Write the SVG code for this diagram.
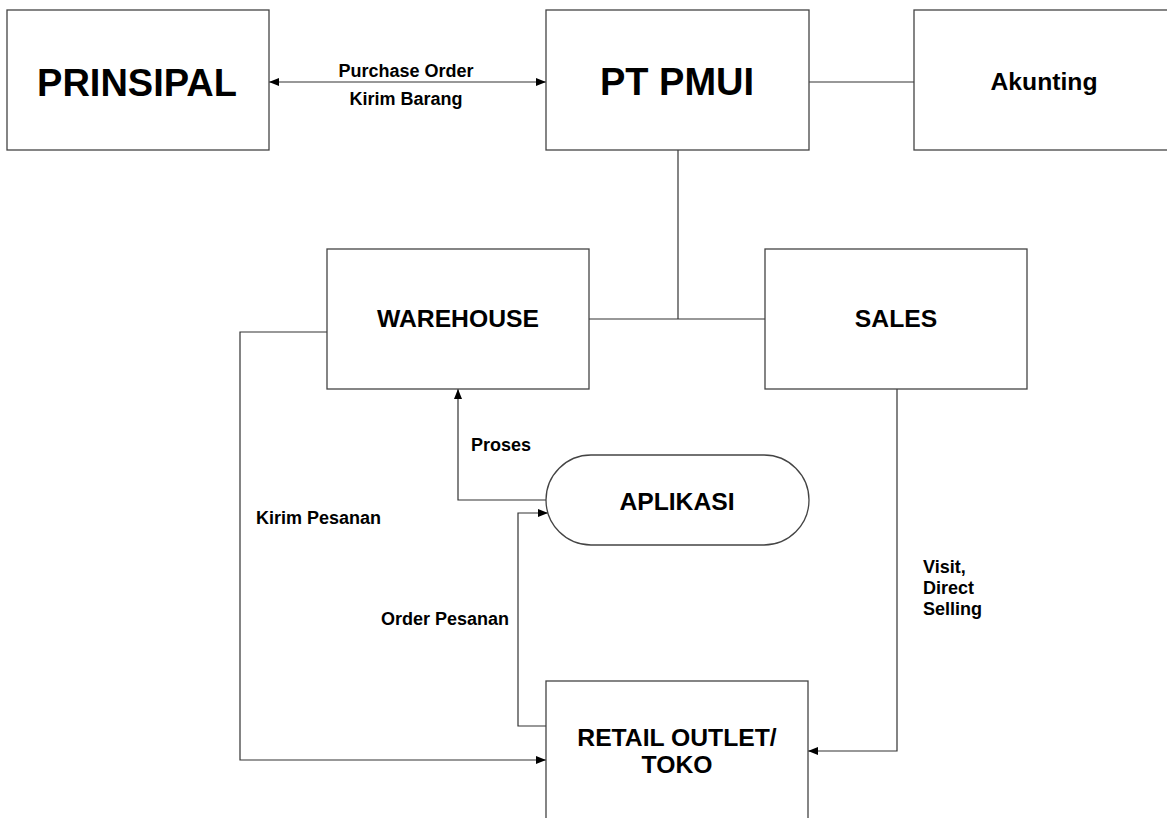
<svg xmlns="http://www.w3.org/2000/svg" width="1167" height="818" viewBox="0 0 1167 818">
<style>
.box{fill:#fff;stroke:#444;stroke-width:1.3}
.ln{fill:none;stroke:#333;stroke-width:1.2}
.t{font-family:"Liberation Sans",Arial,sans-serif;font-weight:bold;fill:#000;text-anchor:middle}
.big{font-size:38px}
.mid{font-size:24.7px}
.lbl{font-family:"Liberation Sans",Arial,sans-serif;font-weight:bold;fill:#000;font-size:18px}
</style>
<defs>
<marker id="ah" viewBox="0 0 10 8" refX="10" refY="4" markerWidth="10" markerHeight="8" markerUnits="userSpaceOnUse" orient="auto-start-reverse">
<path d="M0,0 L10,4 L0,8 z" fill="#000"/>
</marker>
</defs>
<rect width="1167" height="818" fill="#fff"/>
<g id="connectors">
<line class="ln" x1="269" y1="82" x2="546" y2="82" marker-start="url(#ah)" marker-end="url(#ah)"/>
<line class="ln" x1="809" y1="82" x2="914" y2="82"/>
<line class="ln" x1="678" y1="150" x2="678" y2="319"/>
<line class="ln" x1="589" y1="319" x2="765" y2="319"/>
<polyline class="ln" points="327,332 240,332 240,760 546,760" marker-end="url(#ah)"/>
<polyline class="ln" points="546,500 458,500 458,389" marker-end="url(#ah)"/>
<polyline class="ln" points="546,726 518,726 518,513 548,513" marker-end="url(#ah)"/>
<polyline class="ln" points="897,389 897,751 808,751" marker-end="url(#ah)"/>
<text class="lbl" x="406" y="77" text-anchor="middle">Purchase Order</text>
<text class="lbl" x="406" y="105" text-anchor="middle">Kirim Barang</text>
<text class="lbl" x="471" y="451">Proses</text>
<text class="lbl" x="256" y="524">Kirim Pesanan</text>
<text class="lbl" x="509" y="625" text-anchor="end">Order Pesanan</text>
<text class="lbl" x="923" y="573">Visit,</text>
<text class="lbl" x="923" y="594">Direct</text>
<text class="lbl" x="923" y="615">Selling</text>
</g>
<g id="prinsipal">
<rect class="box" x="7" y="10" width="262" height="140"/>
<text class="t big" x="137" y="96">PRINSIPAL</text>
</g>
<g id="ptpmui">
<rect class="box" x="546" y="10" width="263" height="140"/>
<text class="t big" x="677" y="95">PT PMUI</text>
</g>
<g id="akunting">
<rect class="box" x="914" y="10" width="262" height="140"/>
<text class="t mid" x="1044" y="90">Akunting</text>
</g>
<g id="warehouse">
<rect class="box" x="327" y="249" width="262" height="140"/>
<text class="t mid" x="458" y="327">WAREHOUSE</text>
</g>
<g id="sales">
<rect class="box" x="765" y="249" width="262" height="140"/>
<text class="t mid" x="896" y="327">SALES</text>
</g>
<g id="aplikasi">
<rect class="box" x="546" y="455" width="263" height="90" rx="45" ry="45"/>
<text class="t mid" x="677" y="510">APLIKASI</text>
</g>
<g id="retail">
<rect class="box" x="546" y="681" width="262" height="140"/>
<text class="t mid" x="677" y="746">RETAIL OUTLET/</text>
<text class="t mid" x="677" y="773">TOKO</text>
</g>
</svg>
